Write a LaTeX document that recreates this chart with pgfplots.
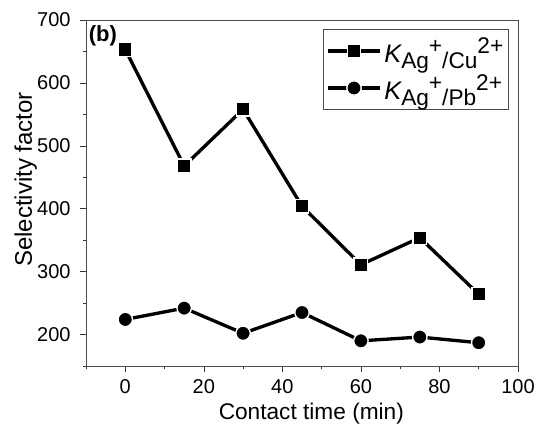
\documentclass[border=0pt]{standalone}
\usepackage{pgfplots}
\pgfplotsset{compat=1.18}
\usepackage{fontspec}
\setmainfont{Liberation Sans}
\newcommand{\sbx}[1]{\raisebox{-4.5pt}{\fontsize{17}{17}\selectfont #1}}
\newcommand{\spx}[1]{\raisebox{6.5pt}{\fontsize{17}{17}\selectfont #1}}
\begin{document}
\begin{tikzpicture}
\path[use as bounding box] (-64.5pt,-46.5pt) rectangle (340.5pt,274.5pt);
\begin{axis}[
  at={(0pt,0pt)}, anchor=south west,
  scale only axis,
  width=324pt, height=259.5pt,
  xmin=-10, xmax=100, ymin=150, ymax=700,
  xtick={0,20,...,100}, ytick={200,300,...,700},
  minor xtick={-10,10,30,50,70,90},
  minor ytick={150,250,...,650},
  tick pos=left,
  tick align=outside,
  major tick length=4.5pt, minor tick length=2.5pt,
  every tick/.style={black!80, thin},
  axis line style={thin, black!70},
  /pgf/number format/assume math mode=true,
  tick label style={font=\fontsize{15}{17}\selectfont},
  yticklabel style={xshift=-3.5pt},
  xticklabel style={yshift=-2pt},
  xlabel={Contact time (min)},
  ylabel={Selectivity factor},
  xlabel style={font=\fontsize{17}{19}\selectfont, at={(axis description cs:0.5216,-0.156)}, anchor=base},
  ylabel style={font=\fontsize{18}{20}\selectfont, at={(axis description cs:-0.125,0.539)}, anchor=base},
  legend style={at={(rel axis cs:0.979,0.973)}, anchor=north east, draw=black!70, thin,
    font=\fontsize{19}{21}\selectfont, row sep=4pt, inner xsep=2pt, inner ysep=4pt},
  legend cell align=left,
  legend image code/.code={%
    \draw[#1, mark repeat=2, mark phase=2] plot coordinates {(0pt,0pt) (19.5pt,0pt) (39pt,0pt)};},
]
\addplot[black, line width=2.5pt, mark=square*, mark size=5.1pt, mark options={solid, fill=black, draw=white, line width=1pt}]
  coordinates {(0,653) (15,468) (30,558) (45,404) (60,311) (75,354) (90,264)};
\addlegendentry{{\itshape K}\sbx{Ag}\spx{+}\sbx{/Cu}\spx{2+}}
\addplot[black, line width=2.5pt, mark=*, mark size=5.4pt, mark options={solid, fill=black, draw=white, line width=1pt}]
  coordinates {(0,224) (15,242) (30,202) (45,235) (60,190) (75,196) (90,187)};
\addlegendentry{{\itshape K}\sbx{Ag}\spx{+}\sbx{/Pb}\spx{2+}}
\node[anchor=north west, font=\bfseries\fontsize{16.5}{18}\selectfont, inner sep=0pt] at (rel axis cs:0.006,0.985) {(b)};
\end{axis}
\end{tikzpicture}
\end{document}
